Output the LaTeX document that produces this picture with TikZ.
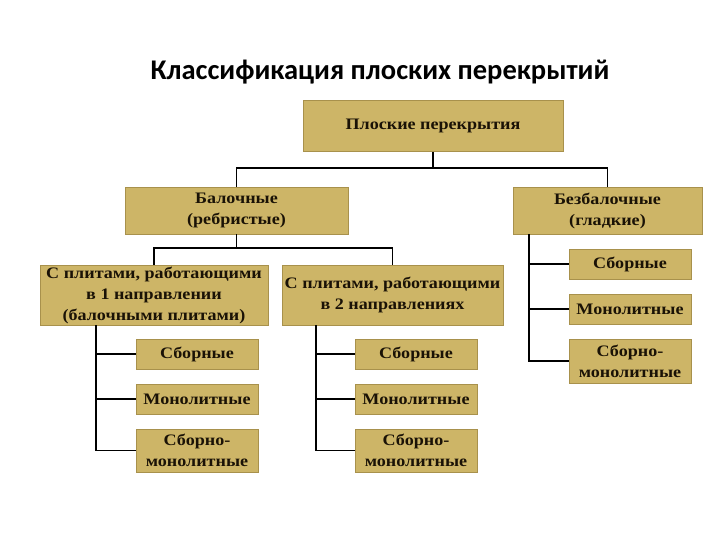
\documentclass[tikz,border=0pt]{standalone}
\usepackage{fontspec}
\setmainfont{Liberation Serif}[FakeStretch=1.13]
\newfontfamily\titlefont{Carlito}
\definecolor{boxfill}{HTML}{CDB567}
\definecolor{boxline}{HTML}{A8914C}
\definecolor{textc}{HTML}{1A1206}
\begin{document}
\begin{tikzpicture}[x=1pt,y=-1pt,
  box/.style={fill=boxfill, draw=boxline, line width=0.6pt, inner sep=0pt, align=center,
    font=\bfseries\fontsize{16}{21}\selectfont, text=textc},
  conn/.style={line width=1.1pt, black}]
\useasboundingbox[fill=white] (0,0) rectangle (720,540);
\node[font=\titlefont\bfseries\fontsize{28.5}{32}\selectfont] (title) at (380,72) {Классификация плоских перекрытий};
\node[box, minimum width=260pt, minimum height=51pt] (root) at (433,126) {Плоские перекрытия};
\node[box, minimum width=223pt, minimum height=47pt] (bal) at (236.5,210.5) {Балочные\\(ребристые)};
\node[box, minimum width=189pt, minimum height=47pt] (bez) at (607.5,210.5) {Безбалочные\\(гладкие)};
\node[box, minimum width=228pt, minimum height=60pt] (p1) at (154,295) {С плитами, работающими\\в 1 направлении\\(балочными плитами)};
\node[box, minimum width=221pt, minimum height=60pt] (p2) at (392.5,295) {С плитами, работающими\\в 2 направлениях};
% children of p1
\node[box, minimum width=122pt, minimum height=30pt] (a1) at (197,354) {Сборные};
\node[box, minimum width=122pt, minimum height=30pt] (a2) at (197,399) {Монолитные};
\node[box, minimum width=122pt, minimum height=43pt] (a3) at (197,450.5) {Сборно-\\монолитные};
% children of p2
\node[box, minimum width=122pt, minimum height=30pt] (b1) at (416,354) {Сборные};
\node[box, minimum width=122pt, minimum height=30pt] (b2) at (416,399) {Монолитные};
\node[box, minimum width=122pt, minimum height=43pt] (b3) at (416,450.5) {Сборно-\\монолитные};
% children of bez
\node[box, minimum width=122pt, minimum height=30pt] (c1) at (630,264) {Сборные};
\node[box, minimum width=122pt, minimum height=30pt] (c2) at (630,309) {Монолитные};
\node[box, minimum width=122pt, minimum height=44pt] (c3) at (630,361) {Сборно-\\монолитные};
% connectors
\coordinate (j1) at (433,168);
\coordinate (j2) at (236.5,248);
\draw[conn] (root.south) -- (j1);
\draw[conn] (bal.north) |- (j1) -| (bez.north);
\draw[conn] (bal.south) -- (j2);
\draw[conn] (p1.north) |- (j2) -| (p2.north);
\coordinate (s1) at (96,325);
\coordinate (s2) at (316,325);
\coordinate (s3) at (529,234);
\draw[conn] (s1) |- (a3.west);
\draw[conn] (s1 |- a1.west) -- (a1.west);
\draw[conn] (s1 |- a2.west) -- (a2.west);
\draw[conn] (s2) |- (b3.west);
\draw[conn] (s2 |- b1.west) -- (b1.west);
\draw[conn] (s2 |- b2.west) -- (b2.west);
\draw[conn] (s3) |- (c3.west);
\draw[conn] (s3 |- c1.west) -- (c1.west);
\draw[conn] (s3 |- c2.west) -- (c2.west);
\end{tikzpicture}
\end{document}
